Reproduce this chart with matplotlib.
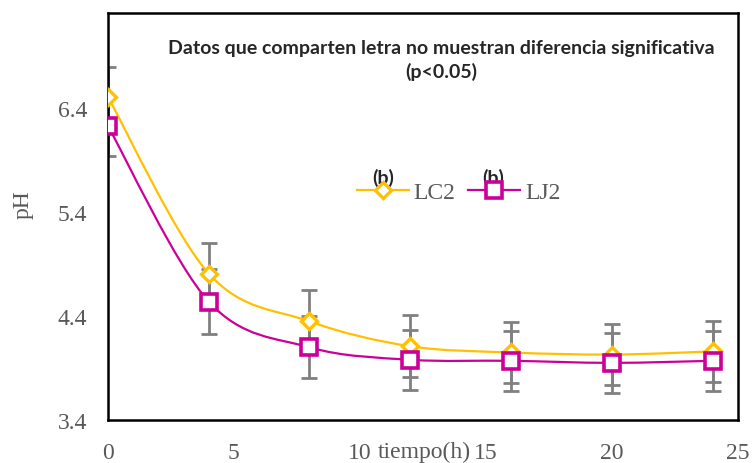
import numpy as np
import matplotlib
matplotlib.use("Agg")
import matplotlib.pyplot as plt
from matplotlib.path import Path
from matplotlib.patches import PathPatch
from matplotlib.lines import Line2D

# pH over time for the two treatments
tiempo = [0, 4, 8, 12, 16, 20, 24]
lc2 = [6.51, 4.81, 4.35, 4.11, 4.05, 4.03, 4.06]
lj2 = [6.23, 4.54, 4.10, 3.98, 3.97, 3.95, 3.97]
lc2_err = [0.29, 0.29, 0.30, 0.30, 0.29, 0.29, 0.29]
lj2_err = [0.29, 0.31, 0.30, 0.29, 0.29, 0.29, 0.29]
y_ticks = [3.4, 4.4, 5.4, 6.4]
x_ticks = [0, 5, 10, 15, 20, 25]

C_LC2 = "#FFC000"
C_LJ2 = "#CC0099"
C_ERR = "#808080"
C_TXT = "#595959"
SERIF = "Liberation Serif"
FS = 17


def smooth_path(x, y):
    """Cubic bezier through the points (spreadsheet-style smoothed line)."""
    pts = np.column_stack([x, y]).astype(float)
    ext = np.vstack([pts[0], pts, pts[-1]])
    verts = [pts[0]]
    codes = [Path.MOVETO]
    for i in range(len(pts) - 1):
        p0, p1, p2, p3 = ext[i], ext[i + 1], ext[i + 2], ext[i + 3]
        c1 = p1 + (p2 - p0) / 6.0
        c2 = p2 - (p3 - p1) / 6.0
        verts += [c1, c2, p2]
        codes += [Path.CURVE4] * 3
    return Path(verts, codes)


fig = plt.figure(figsize=(7.52, 4.64), dpi=100)
ax = fig.add_axes([0.1436, 0.0927, 0.8374, 0.8773])

# error bars behind the lines and markers
ax.errorbar(tiempo, lc2, yerr=lc2_err, fmt="none", ecolor=C_ERR,
            elinewidth=2, capsize=6, capthick=2, zorder=2)
ax.errorbar(tiempo, lj2, yerr=lj2_err, fmt="none", ecolor=C_ERR,
            elinewidth=2, capsize=6, capthick=2, zorder=2)

for vals, col in [(lc2, C_LC2), (lj2, C_LJ2)]:
    ax.add_patch(PathPatch(smooth_path(tiempo, vals), facecolor="none",
                           edgecolor=col, lw=1.6, zorder=3))

ax.plot(tiempo, lc2, ls="none", marker="D", ms=8.5, mfc="white",
        mec=C_LC2, mew=2.4, zorder=4)
ax.plot(tiempo, lj2, ls="none", marker="s", ms=11.5, mfc="white",
        mec=C_LJ2, mew=2.6, zorder=5)

ax.set_xlim(0, 25)
ax.set_ylim(3.4, 7.32)
ax.set_xticks(x_ticks)
ax.set_yticks(y_ticks)
ax.set_yticklabels([f"{v:.1f}" for v in y_ticks])
ax.tick_params(length=0, labelsize=FS, labelcolor=C_TXT)
ax.tick_params(axis="x", pad=16)
ax.tick_params(axis="y", pad=15)
for lab in ax.get_xticklabels() + ax.get_yticklabels():
    lab.set_fontfamily(SERIF)

for sp in ax.spines.values():
    sp.set_linewidth(1.8)
    sp.set_color("black")

ax.set_xlabel("tiempo(h)", fontfamily=SERIF, fontsize=FS, color=C_TXT)
ax.xaxis.set_label_coords(0.502, -0.078)
ax.xaxis.label.set_va("center")
ax.set_ylabel("pH", fontfamily=SERIF, fontsize=FS, color=C_TXT)
ax.yaxis.set_label_coords(-0.135, 0.531)
ax.yaxis.label.set_va("center")

ax.text(0.5286, 0.886,
        "Datos que comparten letra no muestran diferencia significativa\n(p<0.05)",
        transform=ax.transAxes, ha="center", va="center", multialignment="center",
        fontfamily="Lato", fontweight="bold", fontsize=14, color="#262626",
        linespacing=1.35)

handles = [
    Line2D([], [], color=C_LC2, lw=1.6, marker="D", ms=8.5, mfc="white",
           mec=C_LC2, mew=2.4),
    Line2D([], [], color=C_LJ2, lw=1.6, marker="s", ms=11.5, mfc="white",
           mec=C_LJ2, mew=2.6),
]
leg = ax.legend(handles, ["LC2", "LJ2"], ncol=2, loc="center",
                bbox_to_anchor=(0.557, 0.560), frameon=False,
                handlelength=2.2, handletextpad=0.2, columnspacing=0.55,
                prop={"family": SERIF, "size": FS})
for t in leg.get_texts():
    t.set_color(C_TXT)

for xf in (0.4365, 0.611):
    ax.text(xf, 0.598, "(b)", transform=ax.transAxes, ha="center", va="center",
            fontfamily="Lato", fontweight="bold", fontsize=14, color="#262626")

fig.savefig("out.png", dpi=100)
